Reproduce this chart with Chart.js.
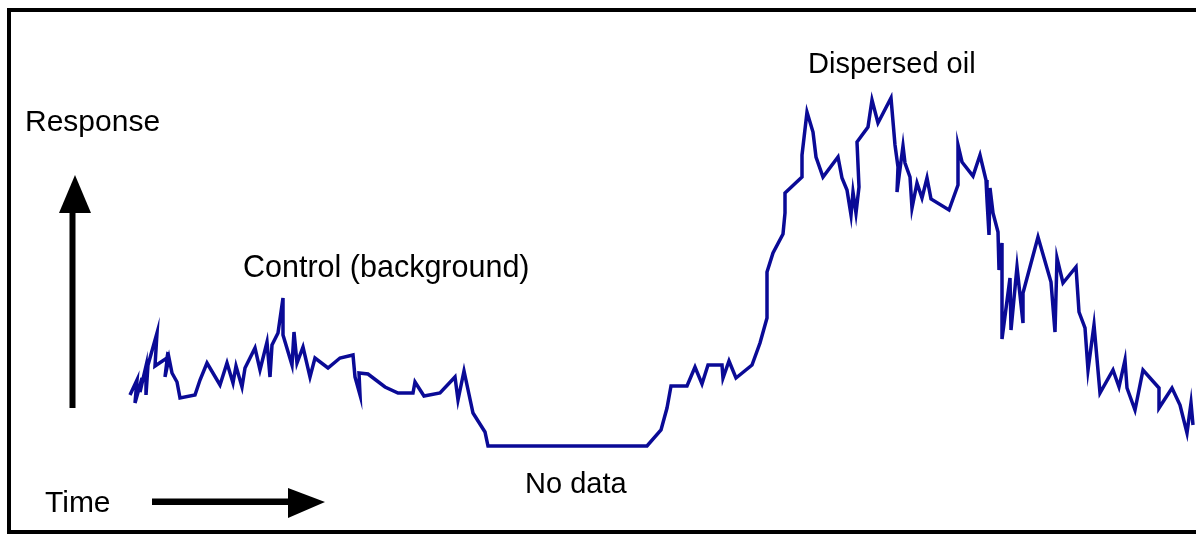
<!DOCTYPE html>
<html>
<head>
<meta charset="utf-8">
<script src="https://cdn.jsdelivr.net/npm/chart.js@4.4.1/dist/chart.umd.min.js"></script>
<style>
  html, body { margin: 0; padding: 0; background: #fff; }
  #wrap { width: 1196px; height: 534px; position: relative; }
</style>
</head>
<body>
<div id="wrap"><canvas id="trace" width="1196" height="534"></canvas></div>
<script>
// Time axis and response readings (arbitrary units).
const timeValues = [
  130, 137, 135, 142, 140, 146, 146, 148, 157, 155, 167, 168, 165, 169, 172, 177, 180, 195, 200, 207,
  220, 227, 233, 236, 242, 245, 255, 260, 267, 270, 272, 278, 283, 283, 292, 294, 297, 303, 310, 315,
  328, 340, 353, 355, 360, 359, 368, 385, 398, 413, 415, 424, 440, 455, 458, 464, 473, 485, 488,
  647, 661, 667, 671, 687, 695, 702, 708, 722, 723, 729, 736, 752, 760, 767, 767, 773, 783, 785, 785,
  802, 802, 807, 813, 816, 823, 838, 842, 847, 851, 853, 856, 859, 857, 868, 872, 878, 891, 895, 898,
  897, 903, 905, 910, 912, 917, 922, 927, 931, 949, 958, 958, 962, 973, 980, 986, 987, 989, 990, 993,
  998, 999, 1002, 1002, 1010, 1011, 1017, 1023, 1023, 1038, 1051, 1055, 1057, 1063, 1076, 1079, 1085,
  1088, 1094, 1100, 1113, 1119, 1125, 1127, 1135, 1143, 1159, 1159, 1172, 1180, 1187, 1191, 1193
];
const responseValues = [
  139, 154, 131, 156, 142, 168, 139, 169, 201, 168, 176, 182, 157, 176, 161, 152, 136, 139, 154, 171,
  149, 171, 151, 168, 147, 166, 186, 164, 192, 157, 189, 201, 236, 199, 169, 202, 171, 187, 157, 176,
  166, 176, 179, 157, 139, 161, 160, 147, 141, 141, 152, 138, 141, 157, 134, 163, 121, 102, 88,
  88, 104, 126, 148, 148, 167, 150, 169, 169, 156, 173, 156, 169, 191, 216, 262, 281, 300, 321, 341,
  357, 379, 422, 402, 377, 357, 377, 356, 344, 319, 342, 321, 347, 392, 407, 434, 411, 436, 389, 367,
  342, 388, 371, 357, 326, 351, 336, 356, 335, 324, 349, 389, 372, 358, 379, 354, 334, 299, 346, 321,
  302, 264, 291, 195, 256, 204, 267, 211, 241, 297, 252, 202, 276, 251, 267, 222, 206,
  164, 209, 141, 164, 147, 174, 146, 124, 164, 146, 126, 146, 129, 101, 131, 109
];

// captions sit on the canvas, not on the scales
const captions = [
  { text: 'Response', x: 25, y: 131, size: 30 },
  { text: 'Control (background)', x: 243, y: 277, size: 30.5 },
  { text: 'Dispersed oil', x: 808, y: 73, size: 29 },
  { text: 'No data', x: 525, y: 493, size: 29 },
  { text: 'Time', x: 45, y: 512, size: 30 }
];

const points = timeValues.map((t, i) => ({ x: t, y: responseValues[i] }));

// frame, arrows and captions drawn on top of the plot
const decor = {
  id: 'decor',
  afterDraw(chart) {
    const ctx = chart.ctx;
    ctx.save();
    ctx.fillStyle = '#000';
    // box (right edge falls outside the picture)
    ctx.fillRect(7, 8, 4, 526);
    ctx.fillRect(7, 8, 1189, 4);
    ctx.fillRect(7, 530, 1189, 4);
    // vertical arrow
    ctx.fillRect(69.5, 210, 6, 198);
    ctx.beginPath();
    ctx.moveTo(59, 213);
    ctx.lineTo(91, 213);
    ctx.lineTo(75, 175);
    ctx.closePath();
    ctx.fill();
    // horizontal arrow
    ctx.fillRect(152, 498.5, 138, 6.5);
    ctx.beginPath();
    ctx.moveTo(288, 488);
    ctx.lineTo(288, 518);
    ctx.lineTo(325, 502);
    ctx.closePath();
    ctx.fill();
    // captions
    ctx.fillStyle = '#000';
    ctx.textBaseline = 'alphabetic';
    ctx.textAlign = 'left';
    captions.forEach(c => {
      ctx.font = c.size + 'px "Liberation Sans", Arial, sans-serif';
      ctx.fillText(c.text, c.x, c.y);
    });
    ctx.restore();
  }
};

new Chart(document.getElementById('trace').getContext('2d'), {
  type: 'line',
  data: {
    datasets: [{
      data: points,
      borderColor: '#0a0a96',
      borderWidth: 3.5,
      pointRadius: 0,
      tension: 0,
      fill: false
    }]
  },
  options: {
    responsive: false,
    animation: false,
    layout: { padding: 0 },
    plugins: { legend: { display: false }, tooltip: { enabled: false } },
    scales: {
      x: { type: 'linear', min: 0, max: 1196, display: false },
      y: { min: 0, max: 534, display: false }
    }
  },
  plugins: [decor]
});
</script>
</body>
</html>
